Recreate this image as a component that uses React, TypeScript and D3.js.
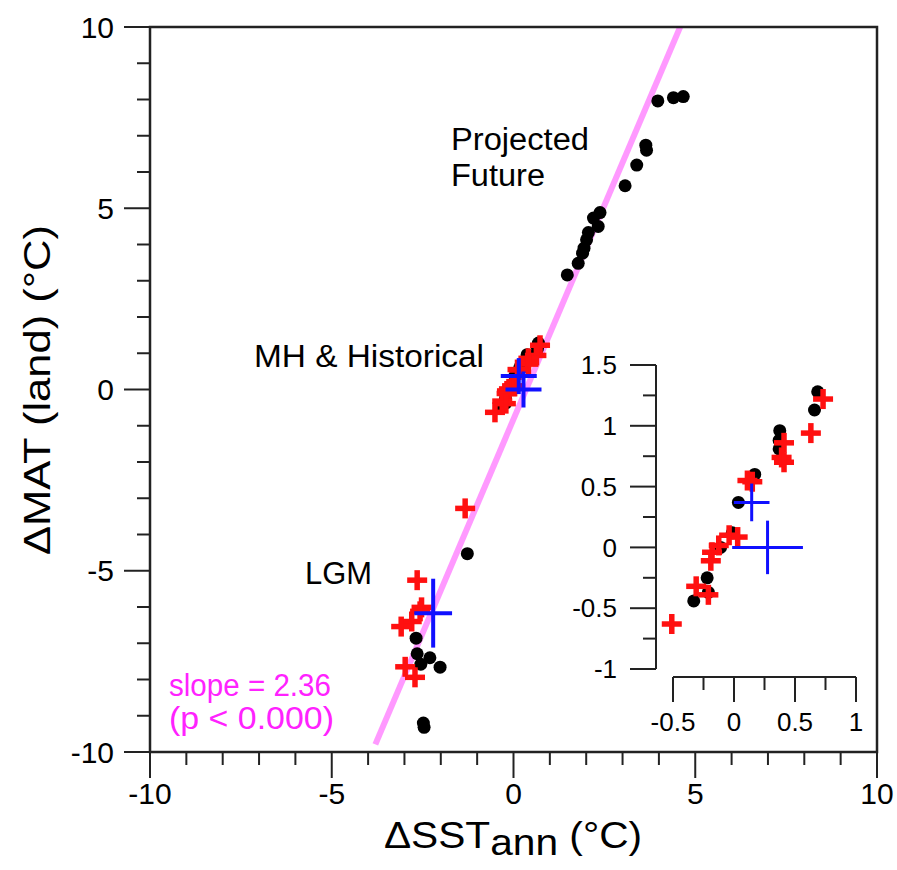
import React from "react";
import * as d3 from "d3";

// ---------- data ----------
const futureX = [3.97, 4.4, 4.67, 3.64, 3.66, 3.39, 3.07, 2.38, 2.2, 2.33, 2.06, 2.01, 1.94, 1.9, 1.78, 1.48];
const futureY = [7.96, 8.05, 8.08, 6.74, 6.6, 6.19, 5.62, 4.88, 4.73, 4.5, 4.33, 4.13, 3.9, 3.76, 3.48, 3.16];

const lgmDotX = [-1.27, -2.68, -2.65, -2.3, -2.55, -2.02, -2.48, -2.46];
const lgmDotY = [-4.53, -6.86, -7.29, -7.4, -7.58, -7.66, -9.2, -9.32];
const lgmCrossX = [-1.33, -2.65, -2.53, -2.57, -2.8, -3.09, -2.98, -2.71];
const lgmCrossY = [-3.28, -5.26, -6.01, -6.12, -6.4, -6.54, -7.65, -7.94];

const mhDotX = [0.686, 0.66, 0.375, 0.37, 0.37, 0.17, 0.036, -0.014, -0.11, -0.22, -0.21, -0.33];
const mhDotY = [1.28, 1.13, 0.96, 0.88, 0.81, 0.6, 0.37, 0.12, 0.0, -0.25, -0.37, -0.44];
const mhCrossX = [0.73, 0.63, 0.41, 0.39, 0.41, 0.15, 0.11, 0.03, -0.04, -0.125, -0.18, -0.19, -0.31, -0.21, -0.51];
const mhCrossY = [1.22, 0.94, 0.86, 0.74, 0.7, 0.54, 0.55, 0.085, 0.1, 0.016, -0.04, -0.11, -0.32, -0.39, -0.63];

const proxyX = [-2.21, 0.145, 0.275];
const proxyY = [-6.17, 0.37, 0.0];
const proxyErrX = [0.52, 0.146, 0.29];
const proxyErrY = [0.95, 0.155, 0.22];

const slope = 2.36;
const intercept = -0.82;
const fitXRange = [-3.8, 4.6];

const mainTicks = [-10, -5, 0, 5, 10];
const insetXTicks = [-0.5, 0, 0.5, 1];
const insetYTicks = [-1, -0.5, 0, 0.5, 1, 1.5];

// ---------- styles ----------
const FONT = "'Liberation Sans', Arial, Helvetica, sans-serif";
const PINK = "#ff99ff";
const MAGENTA = "#ff22ff";
const RED = "#ff1010";
const BLUE = "#1010ff";

const zip = (xs: number[], ys: number[]) => xs.map((x, i) => ({ x, y: ys[i] }));

export default function App() {
  const W = 897, H = 870;
  const x = d3.scaleLinear().domain([-10, 10]).range([150, 877]);
  const y = d3.scaleLinear().domain([-10, 10]).range([752, 27]);

  const ix = d3.scaleLinear().domain([-0.5, 1]).range([673, 856]);
  const iy = d3.scaleLinear().domain([-1, 1.5]).range([669, 365]);

  const minorMain = d3.range(-10, 10.001, 1);
  const minorInset = d3.range(-1, 1.5001, 0.25);
  const minorInsetX = d3.range(-0.5, 1.0001, 0.25);

  const fitLine = d3.line<number>().x((d) => x(d)).y((d) => y(intercept + slope * d));

  const dot = (sx: any, sy: any, pts: { x: number; y: number }[], key: string) =>
    pts.map((p, i) => <circle key={key + i} cx={sx(p.x)} cy={sy(p.y)} r={6.5} fill="#000" />);

  const cross = (sx: any, sy: any, pts: { x: number; y: number }[], key: string) =>
    pts.map((p, i) => {
      const cx = sx(p.x), cy = sy(p.y), a = 10;
      return (
        <g key={key + i} stroke={RED} strokeWidth={5.5}>
          <line x1={cx - a} x2={cx + a} y1={cy} y2={cy} />
          <line x1={cx} x2={cx} y1={cy - a} y2={cy + a} />
        </g>
      );
    });

  const proxies = (sx: any, sy: any, minHalf: number, sw: number, key: string) =>
    proxyX.map((px, i) => {
      const cx = sx(px), cy = sy(proxyY[i]);
      const hx = Math.max(Math.abs(sx(px + proxyErrX[i]) - cx), minHalf);
      const hy = Math.max(Math.abs(sy(proxyY[i] + proxyErrY[i]) - cy), minHalf);
      return (
        <g key={key + i} stroke={BLUE} strokeWidth={sw}>
          <line x1={cx - hx} x2={cx + hx} y1={cy} y2={cy} />
          <line x1={cx} x2={cx} y1={cy - hy} y2={cy + hy} />
        </g>
      );
    });

  const insetVisible = (p: { x: number; y: number }) => p.x >= -0.75 && p.x <= 1.05 && p.y >= -1.1 && p.y <= 1.6;

  return (
    <svg width={W} height={H} style={{ display: "block", position: "absolute", left: 0, top: 0 }} fontFamily={FONT}>
      <rect width={W} height={H} fill="#fff" />
      <defs>
        <clipPath id="mainclip">
          <rect x={150} y={27} width={727} height={725} />
        </clipPath>
      </defs>

      {/* regression line */}
      <path d={fitLine(fitXRange) || ""} stroke={PINK} strokeWidth={6} fill="none" clipPath="url(#mainclip)" />

      {/* main points */}
      {dot(x, y, zip(futureX, futureY), "f")}
      {dot(x, y, zip(lgmDotX, lgmDotY), "ld")}
      {dot(x, y, zip(mhDotX, mhDotY), "md")}
      {cross(x, y, zip(lgmCrossX, lgmCrossY), "lc")}
      {cross(x, y, zip(mhCrossX, mhCrossY), "mc")}
      {proxies(x, y, 18, 4, "mp")}

      {/* frame */}
      <rect x={150} y={27} width={727} height={725} fill="none" stroke="#222" strokeWidth={2.5} />

      {/* main ticks */}
      {minorMain.map((v) => {
        const major = Math.abs(v % 5) < 1e-9;
        return <line key={"yt" + v} x1={150 - (major ? 26 : 13)} x2={150} y1={y(v)} y2={y(v)} stroke="#222" strokeWidth={2} />;
      })}
      {minorMain.map((v) => {
        const major = Math.abs(v % 5) < 1e-9;
        return <line key={"xt" + v} x1={x(v)} x2={x(v)} y1={752} y2={752 + (major ? 26 : 13)} stroke="#222" strokeWidth={2} />;
      })}
      {mainTicks.map((v) => (
        <text key={"yl" + v} x={114} y={y(v)} dy="0.35em" textAnchor="end" fontSize={30} fill="#000">
          {v}
        </text>
      ))}
      {mainTicks.map((v) => (
        <text key={"xl" + v} x={x(v)} y={804} textAnchor="middle" fontSize={30} fill="#000">
          {v}
        </text>
      ))}

      {/* axis titles */}
      <g transform="translate(513,848) scale(1.13,1)">
        <text x={0} y={0} textAnchor="middle" fontSize={36} fill="#000">
          ΔSST<tspan dy={7}>ann</tspan>
          <tspan dy={-7}> (°C)</tspan>
        </text>
      </g>
      <text transform="translate(50,390) rotate(-90)" textAnchor="middle" fontSize={36} fill="#000"
        textLength={330} lengthAdjust="spacingAndGlyphs">
        ΔMAT (land) (°C)
      </text>

      {/* annotations */}
      <text x={451} y={150} fontSize={31} fill="#000" textLength={138} lengthAdjust="spacingAndGlyphs">Projected</text>
      <text x={451} y={186} fontSize={31} fill="#000" textLength={94} lengthAdjust="spacingAndGlyphs">Future</text>
      <text x={254} y={367} fontSize={31} fill="#000" textLength={230} lengthAdjust="spacingAndGlyphs">MH &amp; Historical</text>
      <text x={305} y={584} fontSize={31} fill="#000" textLength={67} lengthAdjust="spacingAndGlyphs">LGM</text>
      <text x={169} y={696} fontSize={31} fill={MAGENTA} textLength={162} lengthAdjust="spacingAndGlyphs">slope = 2.36</text>
      <text x={169} y={729} fontSize={31} fill={MAGENTA} textLength={165} lengthAdjust="spacingAndGlyphs">(p &lt; 0.000)</text>

      {/* inset */}
      <line x1={656} x2={656} y1={iy(1.5)} y2={iy(-1)} stroke="#222" strokeWidth={2} />
      <line x1={ix(-0.5)} x2={ix(1)} y1={677} y2={677} stroke="#222" strokeWidth={2} />
      {minorInset.map((v) => {
        const major = Math.abs((v * 2) % 1) < 1e-9;
        return <line key={"iyt" + v} x1={656 - (major ? 26 : 13)} x2={656} y1={iy(v)} y2={iy(v)} stroke="#222" strokeWidth={2} />;
      })}
      {minorInsetX.map((v) => {
        const major = Math.abs((v * 2) % 1) < 1e-9;
        return <line key={"ixt" + v} x1={ix(v)} x2={ix(v)} y1={677} y2={677 + (major ? 25 : 13)} stroke="#222" strokeWidth={2} />;
      })}
      {insetYTicks.map((v) => (
        <text key={"iyl" + v} x={617} y={iy(v)} dy="0.35em" textAnchor="end" fontSize={26} fill="#000">
          {v}
        </text>
      ))}
      {insetXTicks.map((v) => (
        <text key={"ixl" + v} x={ix(v)} y={731} textAnchor="middle" fontSize={26} fill="#000">
          {v}
        </text>
      ))}
      {dot(ix, iy, zip(mhDotX, mhDotY).filter(insetVisible), "id")}
      {cross(ix, iy, zip(mhCrossX, mhCrossY).filter(insetVisible), "ic")}
      {proxies(ix, iy, 0, 3, "ip").slice(1)}
    </svg>
  );
}
